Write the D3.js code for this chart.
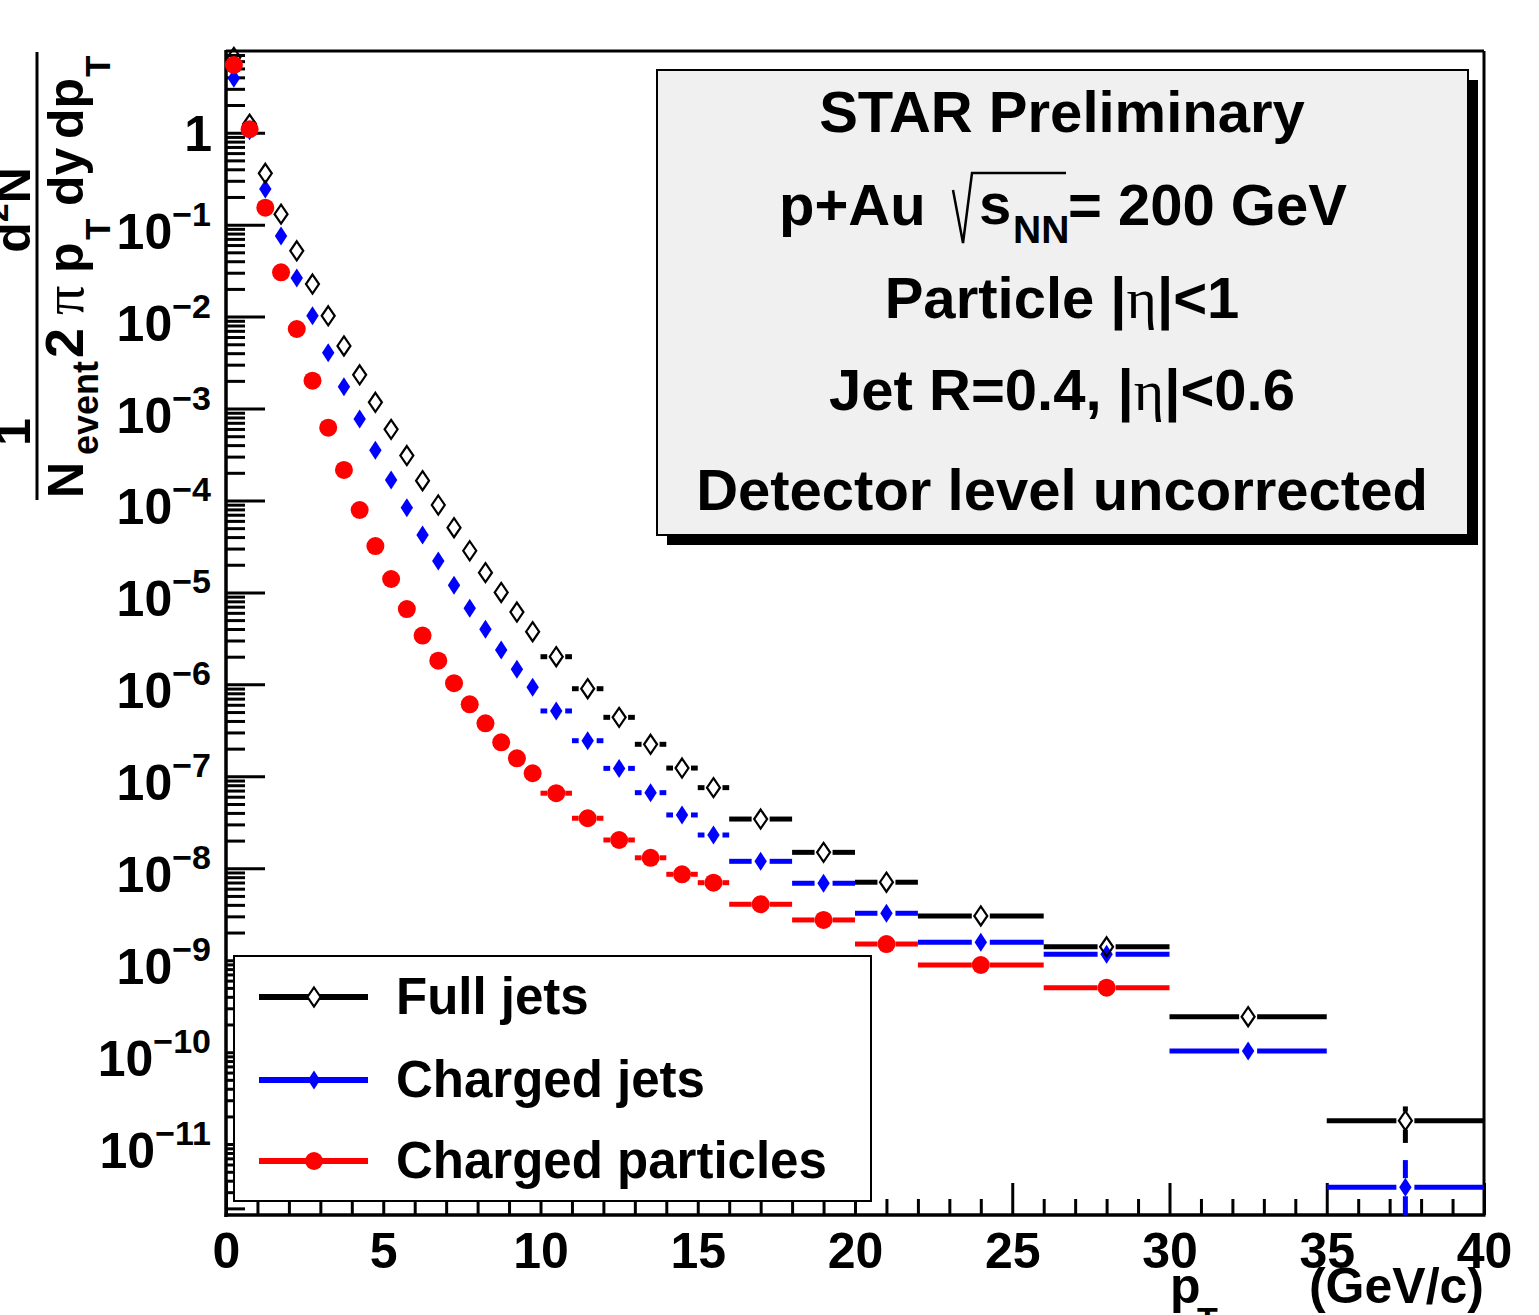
<!DOCTYPE html>
<html><head><meta charset="utf-8">
<script src="https://cdn.jsdelivr.net/npm/d3@7"></script>
<style>body{margin:0;background:#fff;} svg{display:block;}</style>
</head><body>
<script>
// ---------- DATA ----------
const binEdges = [0,0.5,1,1.5,2,2.5,3,3.5,4,4.5,5,5.5,6,6.5,7,7.5,8,8.5,9,9.5,10,11,12,13,14,15,16,18,20,22,26,30,35,40];
const fullJets = [6.6,1.24,0.362,0.13,0.052,0.0226,0.0102,0.00479,0.00233,0.00117,
  5.94e-4,3.08e-4,1.64e-4,8.93e-5,5.06e-5,2.84e-5,1.64e-5,1.0e-5,6.12e-6,3.74e-6,
  2.0e-6,8.97e-7,4.38e-7,2.23e-7,1.23e-7,7.53e-8,3.43e-8,1.49e-8,7.05e-9,3.03e-9,1.40e-9,2.43e-10,1.80e-11];
const fullJetsErr = [0,0,0,0,0,0,0,0,0,0,0,0,0,0,0,0,0,0,0,0,0,0,0,0,0,0,0,0,0,0,0,0,7.7e-12];
const chargedJets = [3.9,1.05,0.244,0.0753,0.0263,0.0102,0.00405,0.00173,7.69e-4,3.52e-4,
  1.67e-4,8.35e-5,4.22e-5,2.2e-5,1.2e-5,6.72e-6,3.97e-6,2.37e-6,1.46e-6,9.29e-7,
  5.14e-7,2.44e-7,1.22e-7,6.64e-8,3.8e-8,2.3e-8,1.19e-8,6.87e-9,3.24e-9,1.57e-9,1.16e-9,1.03e-10,3.4e-12];
const chargedJetsErr = [0,0,0,0,0,0,0,0,0,0,0,0,0,0,0,0,0,0,0,0,0,0,0,0,0,0,0,0,0,0,0,0,3.3e-12];
const chargedParticles = [5.45,1.09,0.153,0.0303,0.00733,0.00201,6.19e-4,2.15e-4,7.88e-5,3.19e-5,
  1.4e-5,6.6e-6,3.39e-6,1.81e-6,1.03e-6,6.07e-7,3.77e-7,2.34e-7,1.57e-7,1.08e-7,
  6.55e-8,3.5e-8,2.03e-8,1.30e-8,8.6e-9,6.97e-9,4.06e-9,2.74e-9,1.50e-9,8.87e-10,5.03e-10,null,null];
const chargedParticlesErr = [0,0,0,0,0,0,0,0,0,0,0,0,0,0,0,0,0,0,0,0,0,0,0,0,0,0,0,0,0,0,0,0,0];
const xTickValues = [0,5,10,15,20,25,30,35,40];
const yDecadeExps = [-11,-10,-9,-8,-7,-6,-5,-4,-3,-2,-1,0];
const seriesNames = ["Full jets","Charged jets","Charged particles"];
const seriesColors = ["#000000","#0000ff","#ff0000"];
const infoTitle = "STAR Preliminary";

// ---------- LAYOUT ----------
const W=1539,H=1315;
const L=226,R=1484,T=51,B=1215;
const FONT = "'Liberation Sans', Arial, Helvetica, sans-serif";
const SERIF = "'Liberation Serif', 'DejaVu Serif', serif";

const svg = d3.select("body").append("svg").attr("width",W).attr("height",H)
  .attr("font-family",FONT).attr("font-weight","bold");

const x = d3.scaleLinear().domain([0,40]).range([L,R]);
const y = d3.scaleLog().domain([1.694e-12, 7.737]).range([B,T]);

svg.append("defs").append("clipPath").attr("id","clip")
  .append("rect").attr("x",L-20).attr("y",0).attr("width",R-L+40).attr("height",B);

// ---------- AXES ----------
const yMinor = [];
for (let k=-12;k<=0;k++) for (let m=2;m<=9;m++){ const v=m*Math.pow(10,k); if (v>=y.domain()[0] && v<=y.domain()[1]) yMinor.push(v); }
svg.append("g").attr("transform",`translate(${L},0)`)
  .call(d3.axisLeft(y).tickValues(yMinor).tickSizeInner(-19).tickSizeOuter(0).tickFormat(""))
  .call(g=>g.select(".domain").remove())
  .call(g=>g.selectAll("line").attr("stroke","#000").attr("stroke-width",3));
svg.append("g").attr("transform",`translate(${L},0)`)
  .call(d3.axisLeft(y).tickValues(yDecadeExps.map(k=>Math.pow(10,k))).tickSizeInner(-39).tickSizeOuter(0).tickFormat(""))
  .call(g=>g.select(".domain").remove())
  .call(g=>g.selectAll("line").attr("stroke","#000").attr("stroke-width",3));

const yLab = svg.append("g");
yDecadeExps.forEach(k=>{
  const ty = y(Math.pow(10,k));
  if (k===0){
    yLab.append("text").attr("x",212).attr("y",ty+18).attr("text-anchor","end").attr("font-size",50).text("1");
  } else {
    const t = yLab.append("text").attr("x",211).attr("y",ty+24).attr("text-anchor","end");
    t.append("tspan").attr("font-size",50).text("10");
    t.append("tspan").attr("font-size",34).attr("dy",-23).text("\u2212"+(-k));
  }
});

svg.append("g").attr("transform",`translate(0,${B})`)
  .call(d3.axisBottom(x).tickValues(d3.range(0,41).filter(v=>v%5!==0)).tickSizeInner(-16).tickSizeOuter(0).tickFormat(""))
  .call(g=>g.select(".domain").remove())
  .call(g=>g.selectAll("line").attr("stroke","#000").attr("stroke-width",3));
svg.append("g").attr("transform",`translate(0,${B})`)
  .call(d3.axisBottom(x).tickValues(xTickValues).tickSizeInner(-32).tickSizeOuter(0).tickFormat(d3.format("d")))
  .call(g=>g.select(".domain").remove())
  .call(g=>g.selectAll("line").attr("stroke","#000").attr("stroke-width",3))
  .call(g=>g.selectAll("text").attr("y",53).attr("dy",null).attr("font-size",50)
     .attr("font-family",FONT).attr("font-weight","bold").attr("fill","#000"));

// frame
svg.append("line").attr("x1",L).attr("x2",L).attr("y1",T-1).attr("y2",B+2).attr("stroke","#000").attr("stroke-width",3.5);
svg.append("line").attr("x1",L-1.5).attr("x2",R+1.5).attr("y1",B).attr("y2",B).attr("stroke","#000").attr("stroke-width",3.5);
svg.append("line").attr("x1",L).attr("x2",R).attr("y1",T).attr("y2",T).attr("stroke","#000").attr("stroke-width",3);
svg.append("line").attr("x1",R).attr("x2",R).attr("y1",T).attr("y2",B).attr("stroke","#000").attr("stroke-width",3);

// axis titles
const yt = svg.append("g").attr("transform","rotate(-90)");
yt.append("text").attr("x",-432).attr("y",30).attr("text-anchor","middle").attr("font-size",50).text("1");
const dn = yt.append("text").attr("x",-210).attr("y",30).attr("text-anchor","middle");
dn.append("tspan").attr("font-size",50).text("d");
dn.append("tspan").attr("font-size",34).attr("dy",-22).text("2");
dn.append("tspan").attr("font-size",50).attr("dy",22).text("N");
yt.append("line").attr("x1",-500).attr("x2",-52).attr("y1",37).attr("y2",37).attr("stroke","#000").attr("stroke-width",3);
const putY=(txt,xx,yy,fs,fam,fw)=>yt.append("text").attr("x",xx).attr("y",yy).attr("font-size",fs)
  .attr("font-family",fam||FONT).attr("font-weight",fw||"bold").text(txt);
putY("N",-498,83,50);
putY("event",-455,98,36);
putY("2",-358,83,54);
putY("\u03c0",-315,83,58,SERIF,"normal");
putY("p",-273,83,50);
putY("T",-240,110,35);
putY("dy",-206,83,50);
putY("dp",-139,83,50);
putY("T",-77,110,35);

svg.append("text").attr("x",1170).attr("y",1303).attr("font-size",50).text("p");
svg.append("text").attr("x",1197).attr("y",1331).attr("font-size",34).text("T");
svg.append("text").attr("x",1484).attr("y",1303).attr("text-anchor","end").attr("font-size",50).text("(GeV/c)");

// ---------- DATA MARKS ----------
const GAP = 9;
const markerPath = {
  open: "M0,-9.5L6.5,0L0,9.5L-6.5,0Z",
  diamond: "M0,-9.5L6.2,0L0,9.5L-6.2,0Z"
};
function drawMarker(g, type, color, cx, cy){
  if (type==="circle") g.append("circle").attr("cx",cx).attr("cy",cy).attr("r",9).attr("fill",color);
  else if (type==="open") g.append("path").attr("d",markerPath.open).attr("transform",`translate(${cx},${cy})`)
      .attr("fill","none").attr("stroke",color).attr("stroke-width",2.2);
  else g.append("path").attr("d",markerPath.diamond).attr("transform",`translate(${cx},${cy})`).attr("fill",color);
}
const series = [
  {vals:chargedJets, errs:chargedJetsErr, color:seriesColors[1], marker:"diamond"},
  {vals:fullJets, errs:fullJetsErr, color:seriesColors[0], marker:"open"},
  {vals:chargedParticles, errs:chargedParticlesErr, color:seriesColors[2], marker:"circle"}
];
const dataG = svg.append("g").attr("clip-path","url(#clip)");
series.forEach(s=>{
  const g = dataG.append("g");
  s.vals.forEach((v,i)=>{
    if (v==null) return;
    const x0=x(binEdges[i]), x1=x(binEdges[i+1]), xc=x((binEdges[i]+binEdges[i+1])/2), yc=y(v);
    if (xc-GAP > x0) g.append("line").attr("x1",x0).attr("x2",xc-GAP).attr("y1",yc).attr("y2",yc).attr("stroke",s.color).attr("stroke-width",5);
    if (x1 > xc+GAP) g.append("line").attr("x1",xc+GAP).attr("x2",x1).attr("y1",yc).attr("y2",yc).attr("stroke",s.color).attr("stroke-width",5);
    const e = s.errs[i];
    if (e>0){
      const yTop=y(v+e), yBot = (v-e>0)? y(v-e) : B+20;
      if (yc-GAP>yTop) g.append("line").attr("x1",xc).attr("x2",xc).attr("y1",yTop).attr("y2",yc-GAP).attr("stroke",s.color).attr("stroke-width",5);
      if (yBot>yc+GAP) g.append("line").attr("x1",xc).attr("x2",xc).attr("y1",yc+GAP).attr("y2",yBot).attr("stroke",s.color).attr("stroke-width",5);
    }
  });
  s.vals.forEach((v,i)=>{
    if (v==null) return;
    drawMarker(g, s.marker, s.color, x((binEdges[i]+binEdges[i+1])/2), y(v));
  });
});

// ---------- LEGEND ----------
const lg = svg.append("g");
lg.append("rect").attr("x",234).attr("y",956).attr("width",637).attr("height",245).attr("fill","#fff").attr("stroke","#000").attr("stroke-width",2);
const legMarkers = ["open","diamond","circle"];
const legY = [997,1080,1161];
seriesNames.forEach((nm,i)=>{
  lg.append("line").attr("x1",259).attr("x2",368).attr("y1",legY[i]).attr("y2",legY[i]).attr("stroke",seriesColors[i]).attr("stroke-width",6);
  if (legMarkers[i]==="open"){
    lg.append("path").attr("d",markerPath.open).attr("transform",`translate(314,${legY[i]})`).attr("fill","#fff").attr("stroke","#000").attr("stroke-width",2.2);
  } else drawMarker(lg, legMarkers[i], seriesColors[i], 314, legY[i]);
  lg.append("text").attr("x",396).attr("y",legY[i]+17).attr("font-size",51).text(nm);
});

// ---------- INFO BOX ----------
const ib = svg.append("g");
ib.append("rect").attr("x",667).attr("y",80).attr("width",811).attr("height",465).attr("fill","#000");
ib.append("rect").attr("x",657).attr("y",70).attr("width",811).attr("height",465).attr("fill","#f0f0f0").attr("stroke","#000").attr("stroke-width",2);
const CX = 1062;
ib.append("text").attr("x",CX).attr("y",132).attr("text-anchor","middle").attr("font-size",58).text(infoTitle);
ib.append("text").attr("x",779).attr("y",225).attr("font-size",58).text("p+Au");
ib.append("path").attr("d","M953,190L963,243L972,173L1066,173").attr("fill","none").attr("stroke","#000").attr("stroke-width",2.5);
ib.append("text").attr("x",979).attr("y",224).attr("font-size",58).text("s");
ib.append("text").attr("x",1013).attr("y",243).attr("font-size",39).text("NN");
ib.append("text").attr("x",1068).attr("y",225).attr("font-size",58).text("= 200 GeV");
function etaLine(pre, post, yy){
  const t = ib.append("text").attr("x",CX).attr("y",yy).attr("text-anchor","middle").attr("font-size",58);
  t.append("tspan").text(pre+"|");
  t.append("tspan").attr("font-family",SERIF).attr("font-weight","normal").text("\u03b7");
  t.append("tspan").text("|"+post);
}
etaLine("Particle ", "<1", 318);
etaLine("Jet R=0.4, ", "<0.6", 410);
ib.append("text").attr("x",CX).attr("y",510).attr("text-anchor","middle").attr("font-size",58).text("Detector level uncorrected");
</script>
</body></html>
